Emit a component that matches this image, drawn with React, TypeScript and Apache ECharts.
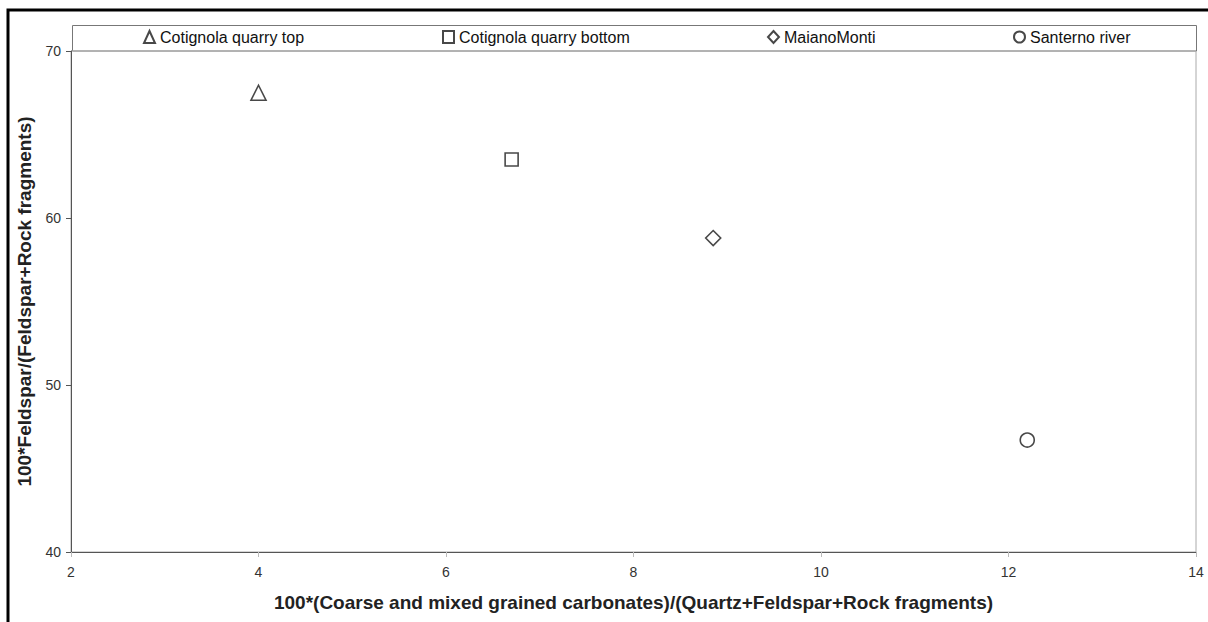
import React, { useEffect, useRef } from "react";
import * as echarts from "echarts";

const seriesNames = ["Cotignola quarry top", "Cotignola quarry bottom", "MaianoMonti", "Santerno river"];
const seriesSymbols = ["triangle", "rect", "diamond", "circle"];
const symbolSizes = [15, 13, 15, 14];
const xValues = [4.0, 6.7, 8.85, 12.2];
const yValues = [67.5, 63.5, 58.8, 46.7];
const legendLefts = [143, 442, 767, 1013];

const FONT = "'Liberation Sans', Arial, sans-serif";

export default function App() {
  const ref = useRef<HTMLDivElement>(null);
  useEffect(() => {
    document.body.style.margin = "0";
    document.body.style.overflow = "hidden";
    const chart = echarts.init(ref.current!, null, { renderer: "svg" });
    const series = seriesNames.map((name, i) => ({
      name,
      type: "scatter",
      symbol: seriesSymbols[i],
      symbolSize: symbolSizes[i],
      data: [[xValues[i], yValues[i]]],
      itemStyle: { color: "#ffffff", borderColor: "#1a1a1a", borderWidth: 1.6 },
    }));
    const legends = seriesNames.map((name, i) => ({
      data: [name],
      left: legendLefts[i],
      top: 29,
      itemWidth: 11,
      itemHeight: 12,
      itemGap: 0,
      padding: 0,
      selectedMode: false,
      textStyle: { fontFamily: FONT, fontSize: 16, color: "#111" },
    }));
    chart.setOption({
      animation: false,
      backgroundColor: "#fff",
      grid: { left: 71, right: 12, top: 51, bottom: 70, show: true, borderColor: "#aaa", borderWidth: 1 },
      legend: legends,
      graphic: [
        { type: "rect", shape: { x: 8, y: 10, width: 1300, height: 700 }, style: { fill: "none", stroke: "#000", lineWidth: 3 }, silent: true },
        { type: "rect", shape: { x: 72.5, y: 25.5, width: 1124, height: 25.5 }, style: { fill: "none", stroke: "#777", lineWidth: 1 }, silent: true, z: -1 },
      ],
      xAxis: {
        type: "value",
        min: 2,
        max: 14,
        interval: 2,
        splitLine: { show: false },
        axisLine: { lineStyle: { color: "#555", width: 1 } },
        axisTick: { show: true, length: 5, lineStyle: { color: "#bbb" } },
        axisLabel: { fontFamily: FONT, fontSize: 14, color: "#333", margin: 13 },
        name: "100*(Coarse and mixed grained carbonates)/(Quartz+Feldspar+Rock fragments)",
        nameLocation: "middle",
        nameGap: 41,
        nameTextStyle: { fontFamily: FONT, fontSize: 19, fontWeight: "bold", color: "#222" },
      },
      yAxis: {
        type: "value",
        min: 40,
        max: 70,
        interval: 10,
        splitLine: { show: false },
        axisLine: { show: true, lineStyle: { color: "#555", width: 1 } },
        axisTick: { show: true, length: 5, lineStyle: { color: "#555" } },
        axisLabel: { fontFamily: FONT, fontSize: 14, color: "#333", margin: 10 },
        name: "100*Feldspar/(Feldspar+Rock fragments)",
        nameLocation: "middle",
        nameGap: 37,
        nameTextStyle: { fontFamily: FONT, fontSize: 19, fontWeight: "bold", color: "#222" },
      },
      series,
    });
    return () => chart.dispose();
  }, []);
  return <div ref={ref} style={{ width: 1208, height: 622 }} />;
}
